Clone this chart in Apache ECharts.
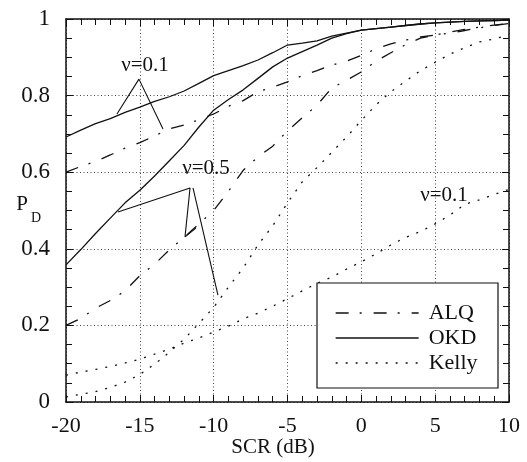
<!DOCTYPE html>
<html>
<head>
<meta charset="utf-8">
<script src="https://cdn.jsdelivr.net/npm/echarts@6/dist/echarts.min.js"></script>
<style>
html,body{margin:0;padding:0;background:#fff;}
#c{width:527px;height:462px;}
</style>
</head>
<body>
<div id="c"></div>
<script>
// SCR values (dB)
var scr = [-20,-19,-18,-17,-16,-15,-14,-13,-12,-11,-10,-9,-8,-7,-6,-5,-4,-3,-2,-1,0,1,2,3,4,5,6,7,8,9,10];
// ALQ
var alqNu01 = [0.600,0.615,0.628,0.645,0.663,0.677,0.695,0.713,0.723,0.737,0.752,0.772,0.787,0.810,0.822,0.836,0.852,0.865,0.880,0.890,0.905,0.922,0.935,0.945,0.953,0.958,0.963,0.970,0.977,0.983,0.988];
var alqNu05 = [0.200,0.218,0.245,0.265,0.290,0.330,0.360,0.397,0.430,0.465,0.500,0.550,0.605,0.640,0.668,0.708,0.742,0.775,0.820,0.840,0.862,0.890,0.912,0.933,0.950,0.958,0.966,0.973,0.979,0.984,0.989];
// OKD
var okdNu01 = [0.692,0.710,0.727,0.740,0.756,0.770,0.785,0.797,0.812,0.832,0.852,0.865,0.878,0.893,0.912,0.932,0.937,0.943,0.955,0.963,0.971,0.975,0.979,0.983,0.987,0.990,0.992,0.994,0.995,0.996,0.997];
var okdNu05 = [0.358,0.398,0.440,0.480,0.520,0.553,0.590,0.630,0.670,0.718,0.762,0.790,0.815,0.845,0.875,0.898,0.915,0.932,0.950,0.962,0.971,0.975,0.979,0.983,0.987,0.990,0.992,0.994,0.995,0.996,0.997];
// Kelly
var kellyNu05 = [0.013,0.020,0.027,0.038,0.052,0.072,0.099,0.130,0.164,0.205,0.247,0.300,0.350,0.410,0.460,0.520,0.575,0.612,0.652,0.692,0.735,0.776,0.810,0.838,0.865,0.887,0.908,0.925,0.940,0.948,0.958];
var kellyNu01 = [0.070,0.078,0.085,0.093,0.102,0.112,0.125,0.138,0.154,0.167,0.183,0.198,0.217,0.232,0.250,0.270,0.290,0.310,0.326,0.347,0.366,0.387,0.410,0.430,0.445,0.465,0.488,0.516,0.528,0.542,0.555];
// axis ticks
var xTicks = [-20,-15,-10,-5,0,5,10];
var yTicks = [0,0.2,0.4,0.6,0.8,1];
var legendNames = ['ALQ','OKD','Kelly'];
// annotation pointer lines (data coordinates)
var annNu01 = [[-16.55,0.752],[-15.06,0.843],[-13.43,0.713]];
var annNu05a = [[-16.48,0.496],[-11.60,0.559],[-11.94,0.431],[-11.20,0.454]];
var annNu05b = [[-11.40,0.559],[-9.71,0.279]];

var FONT = '"Liberation Serif","DejaVu Serif",serif';
function pairs(xs, ys){ return xs.map(function(x,i){ return [x, ys[i]]; }); }

var dashDot = [13,11,2,12];
var dotted = [2,8];

function curve(name, ys, type){
  return {
    name: name, type: 'line', data: pairs(scr, ys), symbol: 'none', showSymbol:false, smooth: false,
    lineStyle: {color:'#111', width:1.3, type: type}, itemStyle:{color:'#111', opacity:0},
    silent: true, z: 3
  };
}
function ann(pts){
  return {
    name: '_ann', type:'line', data: pts, symbol:'none',
    lineStyle:{color:'#111', width:1.1, type:'solid'}, silent:true, z:3
  };
}

var chart = echarts.init(document.getElementById('c'), null, {renderer:'canvas'});
var axisCommonX = {
  type:'value', min: xTicks[0], max: xTicks[xTicks.length-1], interval: 5,
  axisLine:{show:true, onZero:false, lineStyle:{color:'#111', width:1.5}},
  axisTick:{show:true, inside:true, length:7, lineStyle:{color:'#111', width:1}},
  minorTick:{show:true, splitNumber:5, length:6, lineStyle:{color:'#111', width:1}}
};
var axisCommonY = {
  type:'value', min: yTicks[0], max: yTicks[yTicks.length-1], interval: 0.2,
  axisLine:{show:true, onZero:false, lineStyle:{color:'#111', width:1.5}},
  axisTick:{show:true, inside:true, length:7, lineStyle:{color:'#111', width:1}},
  minorTick:{show:true, splitNumber:4, length:6, lineStyle:{color:'#111', width:1}}
};

chart.setOption({
  animation:false,
  backgroundColor:'#fff',
  grid:{left:66, top:19, right:18, bottom:60, containLabel:false},
  xAxis:[
    Object.assign({}, axisCommonX, {
      position:'bottom',
      axisLabel:{show:true, margin:13, color:'#111', fontFamily:FONT, fontSize:22},
      splitLine:{show:true, lineStyle:{color:'#444', width:1, type:[1,2.5]}}
    }),
    Object.assign({}, axisCommonX, {
      position:'top', axisLabel:{show:false}, splitLine:{show:false}
    })
  ],
  yAxis:[
    Object.assign({}, axisCommonY, {
      position:'left',
      axisLabel:{show:true, margin:16, color:'#111', fontFamily:FONT, fontSize:23,
        formatter:function(v){ if (Math.abs(v)<1e-9) return '0'; if (Math.abs(v-1)<1e-9) return '1'; return v.toFixed(1); }},
      splitLine:{show:true, lineStyle:{color:'#444', width:1, type:[1,2.5]}}
    }),
    Object.assign({}, axisCommonY, {
      position:'right', axisLabel:{show:false}, splitLine:{show:false}
    })
  ],
  legend:{
    data: legendNames, orient:'vertical', left:335, top:302,
    itemWidth:83, itemHeight:14, itemGap:3, padding:0,
    textStyle:{fontFamily:FONT, fontSize:22, color:'#111', padding:[0,0,0,5]},
    itemStyle:{opacity:0, borderWidth:0},
    lineStyle:{width:1.3},
    selectedMode:false, z:60
  },
  graphic:[
    {type:'rect', shape:{x:317, y:283, width:181, height:105}, style:{fill:'#fff', stroke:'#111', lineWidth:1.2}, z:50, silent:true},
    {type:'text', x:145, y:65, style:{text:'\u03bd=0.1', font:'21px '+FONT, fill:'#111', textAlign:'center', textVerticalAlign:'middle'}, z:55},
    {type:'text', x:206, y:168, style:{text:'\u03bd=0.5', font:'21px '+FONT, fill:'#111', textAlign:'center', textVerticalAlign:'middle'}, z:55},
    {type:'text', x:444, y:195, style:{text:'\u03bd=0.1', font:'21px '+FONT, fill:'#111', textAlign:'center', textVerticalAlign:'middle'}, z:55},
    {type:'text', x:273, y:447, style:{text:'SCR (dB)', font:'21px '+FONT, fill:'#111', textAlign:'center', textVerticalAlign:'middle'}, z:55},
    {type:'text', x:22, y:204, style:{text:'P', font:'21px '+FONT, fill:'#111', textAlign:'center', textVerticalAlign:'middle'}, z:55},
    {type:'text', x:36, y:218, style:{text:'D', font:'14px '+FONT, fill:'#111', textAlign:'center', textVerticalAlign:'middle'}, z:55}
  ],
  series:[
    curve('ALQ', alqNu01, dashDot),
    curve('ALQ', alqNu05, dashDot),
    curve('OKD', okdNu01, 'solid'),
    curve('OKD', okdNu05, 'solid'),
    curve('Kelly', kellyNu05, dotted),
    curve('Kelly', kellyNu01, dotted),
    ann(annNu01), ann(annNu05a), ann(annNu05b)
  ]
});
</script>
</body>
</html>
